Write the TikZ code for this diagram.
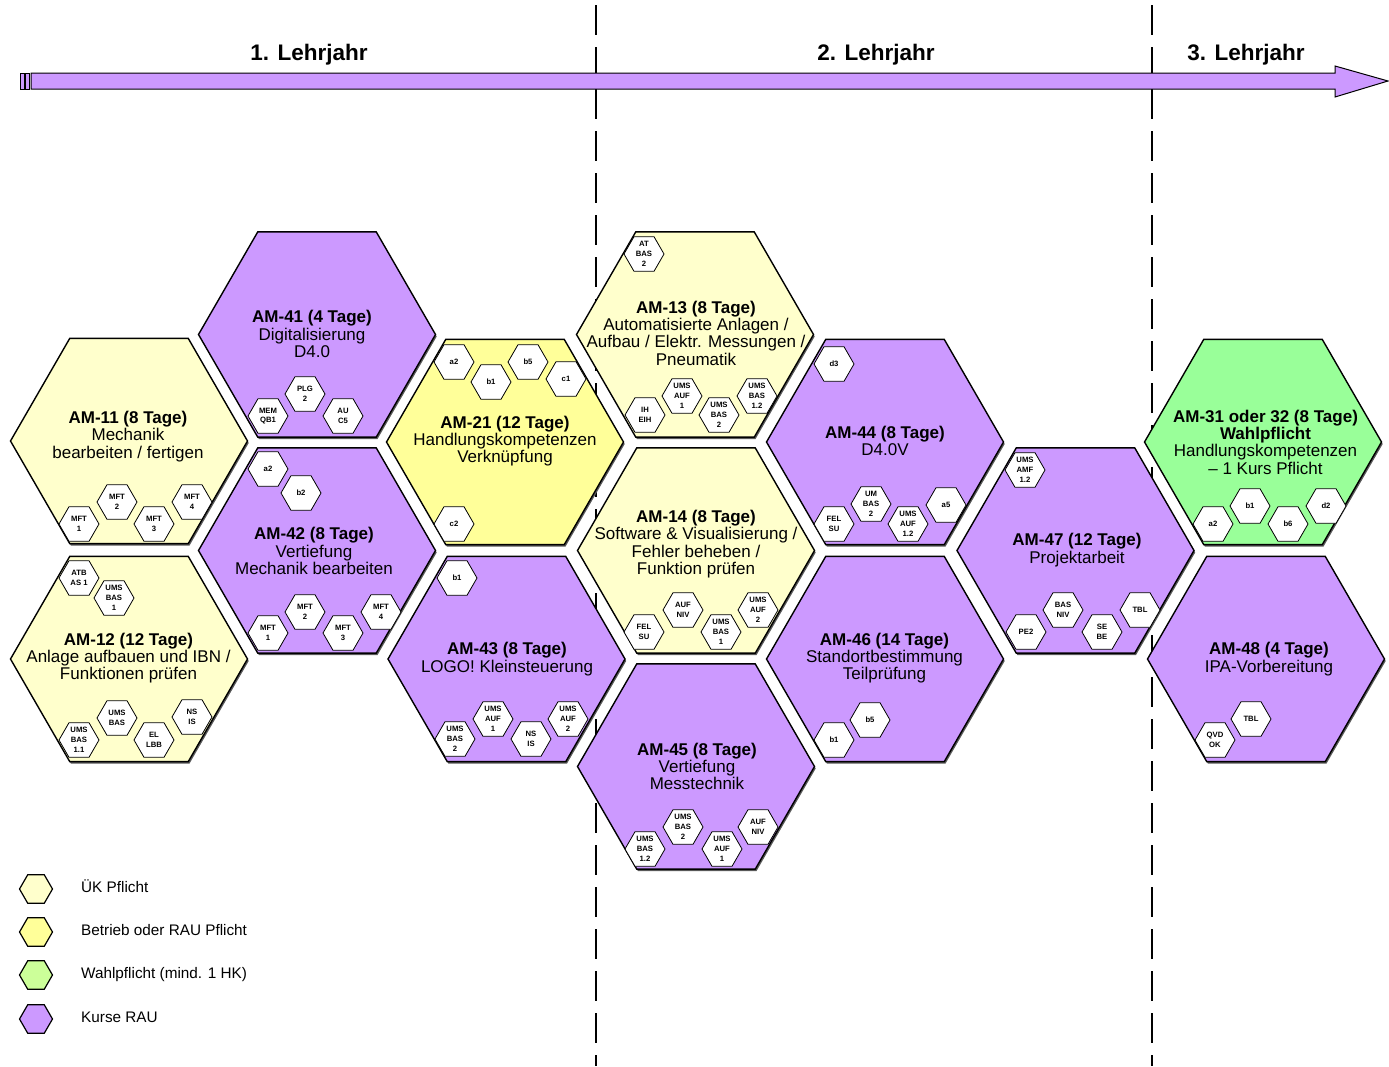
\documentclass[tikz,border=0pt]{standalone}
\usepackage{fontspec}
\setmainfont{Liberation Sans}
\usetikzlibrary{shapes.geometric,shadows}

\definecolor{uk}{HTML}{FFFFCC}
\definecolor{betrieb}{HTML}{FFFF99}
\definecolor{wahl}{HTML}{99FF99}
\definecolor{wahllegend}{HTML}{CCFF99}
\definecolor{rau}{HTML}{CC99FF}

\tikzset{
  bighex/.style={regular polygon, regular polygon sides=6, minimum size=237pt, inner sep=0pt, outer sep=0pt, draw=black, line width=1.4pt,
    general shadow={fill=black!65, shadow xshift=1.2pt, shadow yshift=-2pt}},
  badge/.style={regular polygon, regular polygon sides=6, minimum size=40pt, inner sep=0pt, outer sep=0pt, draw=black, line width=0.8pt, fill=white},
  badgetxt/.style={font=\bfseries\fontsize{7.7}{9.8}\selectfont, align=center, inner sep=0pt},
  hextxt/.style={font=\fontsize{17}{17.3}\selectfont, align=center, inner sep=0pt},
  yeartxt/.style={font=\bfseries\fontsize{22.5}{24}\selectfont, inner sep=0pt},
  legtxt/.style={font=\fontsize{15.3}{17}\selectfont, anchor=base west, inner sep=0pt},
  leghex/.style={regular polygon, regular polygon sides=6, minimum size=33pt, inner sep=0pt, draw=black, line width=1.2pt},
  divider/.style={draw=black, line width=1.2pt, dash pattern=on 30pt off 12pt},
  timeline/.style={draw=black, line width=1pt, fill=rau, line join=miter},
}

\newcommand{\bdg}[4]{\node[badge] (#1) at (#2,#3) {}; \node[badgetxt] (#1t) at (#1.center) {#4};}

\begin{document}
\begin{tikzpicture}[x=1pt,y=-1pt]
\fill[white] (0,0) rectangle (1389,1066);
\useasboundingbox (0,0) rectangle (1389,1066);

% year dividers
\coordinate (d1t) at (596,5);
\coordinate (d1b) at (596,1066);
\coordinate (d2t) at (1152,5);
\coordinate (d2b) at (1152,1066);
\draw[divider] (d1t) -- (d1b);
\draw[divider] (d2t) -- (d2b);

% timeline arrow
\draw[timeline] (31,73) -- (1335,73) -- (1335,66) -- (1388,81) -- (1335,97) -- (1335,89) -- (31,89) -- cycle;
\draw[timeline] (20,73) rectangle (24,89);
\draw[timeline] (25.5,73) rectangle (29.5,89);

\node[yeartxt] (y1) at (309,55) {1. Lehrjahr};
\node[yeartxt] (y2) at (876,55) {2. Lehrjahr};
\node[yeartxt] (y3) at (1246,55) {3. Lehrjahr};

% big hexagons
\node[bighex, fill=uk] (am11) at (129,441) {};
\node[bighex, fill=uk] (am12) at (129,659) {};
\node[bighex, fill=rau] (am41) at (317,334.5) {};
\node[bighex, fill=rau] (am42) at (317,550.5) {};
\node[bighex, fill=betrieb] (am21) at (505,442) {};
\node[bighex, fill=rau] (am43) at (506.5,659) {};
\node[bighex, fill=uk] (am13) at (695,334.5) {};
\node[bighex, fill=uk] (am14) at (696,550.5) {};
\node[bighex, fill=rau] (am45) at (696,766.5) {};
\node[bighex, fill=rau] (am44) at (885,442) {};
\node[bighex, fill=rau] (am46) at (885,659) {};
\node[bighex, fill=rau] (am47) at (1075.5,550.5) {};
\node[bighex, fill=wahl] (am31) at (1263,442) {};
\node[bighex, fill=rau] (am48) at (1266,659) {};

% texts
\node[hextxt] (t11) at (128,436.5) {\textbf{AM-11 (8 Tage)}\\Mechanik\\bearbeiten / fertigen};
\node[hextxt] (t12) at (128.5,658) {\textbf{AM-12 (12 Tage)}\\Anlage aufbauen und IBN /\\Funktionen prüfen};
\node[hextxt] (t41) at (312,334) {\textbf{AM-41 (4 Tage)}\\Digitalisierung\\D4.0};
\node[hextxt] (t42) at (314,551) {\textbf{AM-42 (8 Tage)}\\Vertiefung\\Mechanik bearbeiten};
\node[hextxt] (t21) at (505,441) {\textbf{AM-21 (12 Tage)}\\Handlungskompetenzen\\Verknüpfung};
\node[hextxt] (t43) at (507,659) {\textbf{AM-43 (8 Tage)}\\LOGO! Kleinsteuerung};
\node[hextxt] (t13) at (696,333) {\textbf{AM-13 (8 Tage)}\\Automatisierte Anlagen /\\Aufbau / Elektr. Messungen /\\Pneumatik};
\node[hextxt] (t14) at (696,544) {\textbf{AM-14 (8 Tage)}\\Software \& Visualisierung /\\Fehler beheben /\\Funktion prüfen};
\node[hextxt] (t45) at (697,766.5) {\textbf{AM-45 (8 Tage)}\\Vertiefung\\Messtechnik};
\node[hextxt] (t44) at (885,441) {\textbf{AM-44 (8 Tage)}\\D4.0V};
\node[hextxt] (t46) at (884.5,658) {\textbf{AM-46 (14 Tage)}\\Standortbestimmung\\Teilprüfung};
\node[hextxt] (t47) at (1077,550) {\textbf{AM-47 (12 Tage)}\\Projektarbeit};
\node[hextxt] (t31) at (1265.5,442) {\textbf{AM-31 oder 32 (8 Tage)}\\\textbf{Wahlpflicht}\\Handlungskompetenzen\\– 1 Kurs Pflicht};
\node[hextxt] (t48) at (1269,659) {\textbf{AM-48 (4 Tage)}\\IPA-Vorbereitung};

% badges AM-11
\bdg{a11a}{79}{524}{MFT\\1}
\bdg{a11b}{117}{502}{MFT\\2}
\bdg{a11c}{154}{524}{MFT\\3}
\bdg{a11d}{192}{502}{MFT\\4}
% AM-12
\bdg{a12a}{79}{578}{ATB\\AS 1}
\bdg{a12b}{114}{598}{UMS\\BAS\\1}
\bdg{a12c}{79}{740}{UMS\\BAS\\1.1}
\bdg{a12d}{117}{718}{UMS\\BAS}
\bdg{a12e}{154}{740}{EL\\LBB}
\bdg{a12f}{192}{717}{NS\\IS}
% AM-41
\bdg{a41a}{268}{416}{MEM\\QB1}
\bdg{a41b}{305}{394}{PLG\\2}
\bdg{a41c}{343}{416}{AU\\C5}
% AM-42
\bdg{a42a}{268}{469}{a2}
\bdg{a42b}{301}{493}{b2}
\bdg{a42c}{268}{633}{MFT\\1}
\bdg{a42d}{305}{612}{MFT\\2}
\bdg{a42e}{343}{633}{MFT\\3}
\bdg{a42f}{381}{612}{MFT\\4}
% AM-21
\bdg{a21a}{454}{362}{a2}
\bdg{a21b}{491}{382}{b1}
\bdg{a21c}{528}{362}{b5}
\bdg{a21d}{566}{379}{c1}
\bdg{a21e}{454}{524}{c2}
% AM-43
\bdg{a43a}{457}{578}{b1}
\bdg{a43b}{455}{739}{UMS\\BAS\\2}
\bdg{a43c}{493}{719}{UMS\\AUF\\1}
\bdg{a43d}{531}{739}{NS\\IS}
\bdg{a43e}{568}{719}{UMS\\AUF\\2}
% AM-13
\bdg{a13a}{644}{254}{AT\\BAS\\2}
\bdg{a13b}{645}{415}{IH\\EIH}
\bdg{a13c}{682}{396}{UMS\\AUF\\1}
\bdg{a13d}{719}{415}{UMS\\BAS\\2}
\bdg{a13e}{757}{396}{UMS\\BAS\\1.2}
% AM-14
\bdg{a14a}{644}{632}{FEL\\SU}
\bdg{a14b}{683}{610}{AUF\\NIV}
\bdg{a14c}{721}{632}{UMS\\BAS\\1}
\bdg{a14d}{758}{610}{UMS\\AUF\\2}
% AM-45
\bdg{a45a}{645}{849}{UMS\\BAS\\1.2}
\bdg{a45b}{683}{827}{UMS\\BAS\\2}
\bdg{a45c}{722}{849}{UMS\\AUF\\1}
\bdg{a45d}{758}{827}{AUF\\NIV}
% AM-44
\bdg{a44a}{834}{364}{d3}
\bdg{a44b}{834}{524}{FEL\\SU}
\bdg{a44c}{871}{504}{UM\\BAS\\2}
\bdg{a44d}{908}{524}{UMS\\AUF\\1.2}
\bdg{a44e}{946}{505}{a5}
% AM-46
\bdg{a46a}{834}{740}{b1}
\bdg{a46b}{870}{720}{b5}
% AM-47
\bdg{a47a}{1025}{470}{UMS\\AMF\\1.2}
\bdg{a47b}{1026}{632}{PE2}
\bdg{a47c}{1063}{610}{BAS\\NIV}
\bdg{a47d}{1102}{632}{SE\\BE}
\bdg{a47e}{1140}{610}{TBL}
% AM-31
\bdg{a31a}{1213}{524}{a2}
\bdg{a31b}{1250}{506}{b1}
\bdg{a31c}{1288}{524}{b6}
\bdg{a31d}{1326}{506}{d2}
% AM-48
\bdg{a48a}{1215}{740}{QVD\\OK}
\bdg{a48b}{1251}{719}{TBL}

% legend
\node[leghex, fill=uk] (l1) at (36,889) {};
\node[leghex, fill=betrieb] (l2) at (36,932) {};
\node[leghex, fill=wahllegend] (l3) at (36,975) {};
\node[leghex, fill=rau] (l4) at (36,1019) {};
\node[legtxt] (lt1) at (81,892.5) {ÜK Pflicht};
\node[legtxt] (lt2) at (81,935.5) {Betrieb oder RAU Pflicht};
\node[legtxt] (lt3) at (81,978.5) {Wahlpflicht (mind. 1 HK)};
\node[legtxt] (lt4) at (81,1022.5) {Kurse RAU};
\end{tikzpicture}
\end{document}
